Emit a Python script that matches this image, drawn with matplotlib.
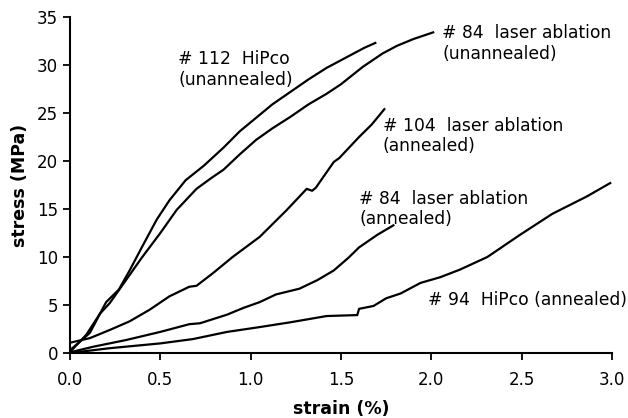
import matplotlib.pyplot as plt

# stress-strain curves (strain %, stress MPa)
hipco112_x = [0.0, 0.05, 0.11, 0.166, 0.20, 0.27, 0.33, 0.40, 0.48, 0.55, 0.64, 0.74, 0.85, 0.94,
              1.03, 1.12, 1.22, 1.32, 1.42, 1.55, 1.63, 1.69]
hipco112_y = [0.3, 1.1, 2.1, 4.1, 5.3, 6.6, 8.6, 11.1, 13.9, 15.9, 18.0, 19.5, 21.4, 23.1,
              24.5, 25.9, 27.2, 28.5, 29.7, 31.0, 31.8, 32.3]

laser84u_x = [0.0, 0.09, 0.166, 0.22, 0.31, 0.40, 0.50, 0.59, 0.70, 0.78, 0.85, 0.94, 1.03, 1.12,
              1.22, 1.32, 1.42, 1.50, 1.62, 1.73, 1.81, 1.90, 2.01]
laser84u_y = [0.1, 1.9, 4.1, 5.2, 7.6, 10.0, 12.5, 14.9, 17.1, 18.2, 19.1, 20.7, 22.2, 23.4,
              24.6, 25.9, 27.0, 28.0, 29.8, 31.2, 32.0, 32.7, 33.4]

laser104_x = [0.0, 0.11, 0.22, 0.33, 0.44, 0.55, 0.66, 0.70, 0.79, 0.90, 1.05, 1.20, 1.31, 1.34,
              1.36, 1.46, 1.49, 1.60, 1.67, 1.74]
laser104_y = [1.07, 1.55, 2.4, 3.3, 4.5, 5.9, 6.9, 7.0, 8.3, 10.0, 12.1, 14.9, 17.1, 16.9,
              17.2, 19.9, 20.3, 22.5, 23.8, 25.4]

laser84a_x = [0.0, 0.13, 0.31, 0.50, 0.66, 0.72, 0.87, 0.96, 1.05, 1.14, 1.27, 1.37, 1.46, 1.54,
              1.60, 1.70, 1.79]
laser84a_y = [0.07, 0.66, 1.35, 2.2, 3.0, 3.1, 4.0, 4.7, 5.3, 6.1, 6.7, 7.6, 8.6, 9.9,
              11.0, 12.3, 13.3]

hipco94_x = [0.0, 0.22, 0.50, 0.68, 0.87, 1.05, 1.22, 1.42, 1.59, 1.60, 1.68, 1.75, 1.83, 1.94,
             2.05, 2.16, 2.31, 2.49, 2.67, 2.86, 2.99]
hipco94_y = [0.0, 0.5, 1.0, 1.45, 2.2, 2.7, 3.2, 3.85, 3.95, 4.6, 4.9, 5.7, 6.2, 7.3,
             7.9, 8.7, 10.0, 12.3, 14.5, 16.3, 17.7]

series = [
    (hipco112_x, hipco112_y),
    (laser84u_x, laser84u_y),
    (laser104_x, laser104_y),
    (laser84a_x, laser84a_y),
    (hipco94_x, hipco94_y),
]

fig = plt.figure(figsize=(6.28, 4.18), dpi=100)
ax = fig.add_axes([0.1115, 0.1555, 0.863, 0.8038])

for x, y in series:
    ax.plot(x, y, color='black', lw=1.6)

fs = 12.3
ax.text(0.598, 29.5, '# 112  HiPco\n(unannealed)', fontsize=fs, va='center', linespacing=1.2)
ax.text(2.06, 32.2, '# 84  laser ablation\n(unannealed)', fontsize=fs, va='center', linespacing=1.2)
ax.text(1.73, 22.6, '# 104  laser ablation\n(annealed)', fontsize=fs, va='center', linespacing=1.2)
ax.text(1.60, 15.0, '# 84  laser ablation\n(annealed)', fontsize=fs, va='center', linespacing=1.2)
ax.text(1.98, 5.5, '# 94  HiPco (annealed)', fontsize=fs, va='center')

ax.set_xlim(0, 3.0)
ax.set_ylim(0, 35)
ax.set_xticks([0.0, 0.5, 1.0, 1.5, 2.0, 2.5, 3.0])
ax.set_xticklabels(['0.0', '0.5', '1.0', '1.5', '2.0', '2.5', '3.0'])
ax.set_yticks(range(0, 36, 5))
ax.tick_params(labelsize=12, width=1.3, length=5, color='black')
ax.tick_params(axis='x', pad=8)
ax.spines['top'].set_visible(False)
ax.spines['right'].set_visible(False)
for s in ['left', 'bottom']:
    ax.spines[s].set_linewidth(1.5)

ax.set_xlabel('strain (%)', fontsize=12.5, fontweight='bold', labelpad=8)
ax.set_ylabel('stress (MPa)', fontsize=12.5, fontweight='bold', labelpad=6)

plt.savefig('out.png', dpi=100)
plt.close()
